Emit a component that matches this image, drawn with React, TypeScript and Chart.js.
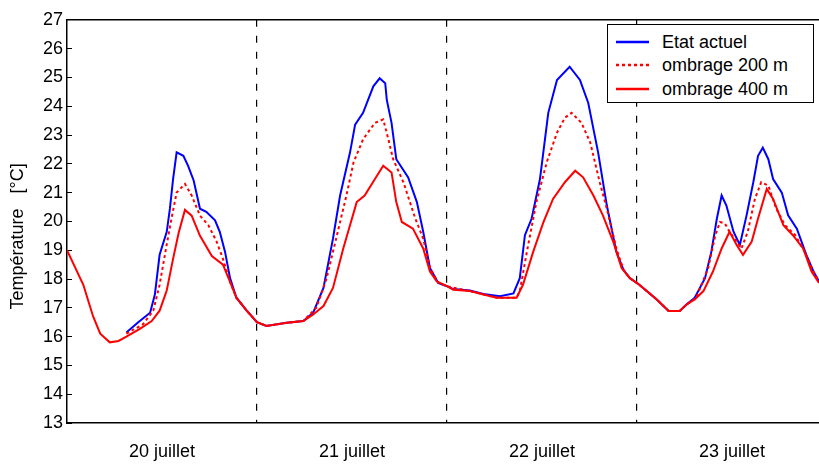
import React, { useEffect, useRef } from 'react';
import { Chart, registerables } from 'chart.js';

Chart.register(...registerables);

const dayLabels = ['20 juillet', '21 juillet', '22 juillet', '23 juillet'];
const seriesNames = ['Etat actuel', 'ombrage 200 m', 'ombrage 400 m'];
const yTitle = 'Température   [°C]      ';

const hoursActuel = [7.5, 9.0, 10.5, 11.1, 11.7, 12.6, 13.0, 13.4, 13.85, 14.7, 15.3, 16.0, 16.8, 17.6, 18.7, 19.3, 19.96, 20.6, 21.4, 22.7, 24, 25.2, 27.75, 29.85, 31.1, 32.4, 33.6, 34.5, 35.75, 36.4, 37.4, 38.7, 39.5, 40.2, 40.4, 41.0, 41.6, 43.1, 44.2, 45.0, 45.85, 46.9, 48, 48.8, 50.9, 52.6, 54.7, 56.4, 57.2, 57.85, 58.7, 59.75, 60.8, 61.9, 63.5, 64.8, 65.85, 67.1, 68.2, 69.4, 70.3, 71.1, 72.3, 74.5, 76.0, 77.4, 78.3, 79.3, 80.6, 81.4, 82.1, 82.7, 83.3, 84.2, 85.0, 85.85, 86.7, 87.3, 87.9, 88.6, 89.2, 90.3, 91.1, 92.2, 93.4, 94.3, 95];
const tempActuel = [16.14, 16.5, 16.83, 17.46, 18.84, 19.64, 20.44, 21.47, 22.4, 22.28, 21.93, 21.42, 20.44, 20.33, 20.04, 19.64, 18.95, 18.03, 17.35, 16.9, 16.5, 16.37, 16.48, 16.54, 16.83, 17.69, 19.4, 20.9, 22.39, 23.36, 23.77, 24.69, 24.97, 24.8, 24.22, 23.42, 22.16, 21.53, 20.67, 19.64, 18.38, 17.86, 17.75, 17.65, 17.6, 17.48, 17.4, 17.5, 18.03, 19.52, 20.1, 21.47, 23.77, 24.91, 25.37, 24.91, 24.11, 22.39, 20.55, 18.95, 18.32, 18.03, 17.8, 17.29, 16.89, 16.89, 17.12, 17.35, 18.03, 18.95, 20.1, 20.9, 20.55, 19.64, 19.18, 20.21, 21.36, 22.28, 22.56, 22.16, 21.47, 21.0, 20.21, 19.75, 18.84, 18.26, 17.92];

const hours200 = [7.5, 9.6, 10.9, 11.7, 12.6, 13.2, 13.85, 14.9, 15.75, 16.8, 17.85, 18.9, 19.7, 20.6, 21.4, 22.7, 24, 25.2, 27.75, 29.85, 31.5, 32.8, 34.1, 35.3, 36.2, 37.4, 38.9, 39.95, 40.6, 41.2, 42.5, 44.0, 45.0, 45.85, 46.9, 48, 50.9, 54.3, 56.8, 57.2, 58.1, 59.3, 60.6, 61.9, 62.9, 63.75, 65.0, 66.1, 67.3, 68.2, 69.4, 70.3, 71.1, 72.3, 74.5, 76.0, 77.4, 78.3, 79.5, 81.0, 81.9, 82.5, 83.1, 83.7, 84.6, 85.2, 86.0, 86.9, 87.7, 88.6, 89.6, 90.7, 92.0, 93.2, 94.3, 95];
const temp200 = [16.1, 16.43, 16.9, 17.8, 19.2, 20.1, 21.0, 21.3, 20.9, 20.2, 19.87, 19.3, 18.7, 17.9, 17.35, 16.9, 16.5, 16.37, 16.48, 16.54, 17.0, 18.03, 19.52, 20.9, 22.05, 22.85, 23.42, 23.54, 22.85, 22.16, 21.36, 20.1, 19.4, 18.4, 17.86, 17.75, 17.58, 17.35, 17.35, 17.58, 18.95, 20.67, 22.05, 23.08, 23.6, 23.77, 23.42, 22.74, 21.36, 20.44, 19.06, 18.32, 18.03, 17.8, 17.29, 16.89, 16.89, 17.12, 17.35, 18.38, 19.52, 19.98, 19.93, 19.64, 19.3, 19.06, 19.64, 20.78, 21.36, 21.24, 20.44, 19.87, 19.52, 18.95, 18.26, 17.9];

const hours400 = [0, 2.06, 3.3, 4.2, 5.4, 6.5, 7.5, 9.2, 10.7, 11.7, 12.6, 13.4, 14.1, 14.9, 15.75, 16.8, 18.3, 19.7, 20.6, 21.4, 22.7, 24, 25.2, 27.75, 29.85, 31.1, 32.4, 33.6, 34.9, 36.6, 37.6, 38.9, 39.95, 41.0, 41.6, 42.3, 43.7, 45.0, 45.85, 46.7, 48, 48.8, 50.9, 52.6, 54.3, 56.8, 57.6, 58.9, 60.2, 61.4, 62.9, 64.2, 65.2, 66.5, 67.7, 69.0, 70.06, 71.1, 72.3, 74.5, 76.0, 77.4, 78.3, 79.3, 80.4, 81.6, 82.7, 83.7, 84.6, 85.4, 86.5, 87.3, 88.4, 89.2, 90.5, 91.7, 93.0, 94.06, 95];
const temp400 = [19.0, 17.8, 16.7, 16.1, 15.8, 15.85, 16.0, 16.27, 16.54, 16.9, 17.6, 18.7, 19.6, 20.4, 20.2, 19.5, 18.8, 18.5, 17.9, 17.35, 16.9, 16.5, 16.37, 16.48, 16.54, 16.77, 17.06, 17.69, 19.06, 20.67, 20.9, 21.47, 21.93, 21.7, 20.67, 19.98, 19.75, 19.06, 18.26, 17.92, 17.75, 17.63, 17.58, 17.46, 17.35, 17.35, 17.8, 18.95, 19.98, 20.78, 21.36, 21.76, 21.53, 20.9, 20.21, 19.3, 18.38, 18.03, 17.8, 17.29, 16.89, 16.89, 17.12, 17.29, 17.58, 18.26, 19.06, 19.64, 19.18, 18.84, 19.3, 20.1, 21.13, 20.78, 19.87, 19.52, 19.06, 18.26, 17.86];

const xMin = 0;
const xMax = 95;
const yMin = 13;
const yMax = 27;
const dayTicks = [12, 24, 36, 48, 60, 72, 84];

const FONT = "'Liberation Sans', Arial, sans-serif";

const pts = (xs: number[], ys: number[]) => xs.map((x, i) => ({ x, y: ys[i] }));

export default function App() {
  const ref = useRef<HTMLCanvasElement | null>(null);

  useEffect(() => {
    if (!ref.current) return;
    const chart = new Chart(ref.current, {
      type: 'line',
      data: {
        datasets: [
          { label: seriesNames[0], data: pts(hoursActuel, tempActuel), borderColor: '#0000ff', backgroundColor: '#0000ff', borderWidth: 2, pointRadius: 0, tension: 0, fill: false, order: 2 },
          { label: seriesNames[1], data: pts(hours200, temp200), borderColor: '#ff0000', backgroundColor: '#ff0000', borderWidth: 2, borderDash: [3, 3], pointRadius: 0, tension: 0, fill: false, order: 1 },
          { label: seriesNames[2], data: pts(hours400, temp400), borderColor: '#ff0000', backgroundColor: '#ff0000', borderWidth: 2, pointRadius: 0, tension: 0, fill: false, order: 0 },
        ],
      },
      options: {
        responsive: false,
        animation: false,
        devicePixelRatio: 1,
        layout: { padding: 0 },
        plugins: { legend: { display: false }, tooltip: { enabled: false } },
        scales: {
          x: {
            type: 'linear',
            position: 'bottom',
            min: xMin,
            max: xMax,
            afterBuildTicks: (s: any) => { s.ticks = dayTicks.map((v) => ({ value: v })); },
            ticks: {
              autoSkip: false,
              maxRotation: 0,
              padding: 18,
              color: '#000',
              font: { family: FONT, size: 18 },
              callback: (v: any) => (v % 24 === 12 ? dayLabels[(v - 12) / 24] : ''),
            },
            grid: {
              color: (c: any) => (c.tick && c.tick.value % 24 === 0 ? '#000' : 'rgba(0,0,0,0)'),
              lineWidth: 1.2,
              drawTicks: false,
            },
            border: { display: true, color: '#000', width: 1.5, dash: [7, 9] },
            afterFit: (s: any) => { s.height = 41; },
          },
          xTop: {
            type: 'linear',
            position: 'top',
            min: xMin,
            max: xMax,
            ticks: { display: false },
            grid: { display: false },
            border: { display: true, color: '#000', width: 1.5 },
            afterFit: (s: any) => { s.height = 16; },
          },
          y: {
            min: yMin,
            max: yMax,
            ticks: { stepSize: 1, padding: 9, color: '#000', font: { family: FONT, size: 18 } },
            grid: { drawOnChartArea: false, drawTicks: true, tickLength: -5, color: '#000', lineWidth: 1 },
            border: { display: true, color: '#000', width: 1.5 },
            title: { display: true, text: yTitle, color: '#000', font: { family: FONT, size: 18 }, padding: { top: 7, bottom: 0 } },
            afterFit: (s: any) => { s.width = 67; },
          },
        },
      } as any,
    });
    return () => chart.destroy();
  }, []);

  const rowTops = [17, 40, 64];
  return (
    <div style={{ position: 'absolute', left: 0, top: 0, width: 819, height: 464, background: '#fff', overflow: 'hidden' }}>
      <canvas ref={ref} width={819} height={464} style={{ display: 'block', width: 819, height: 464 }} />
      <div style={{ position: 'absolute', left: 607, top: 24, width: 205, height: 77, border: '1px solid #000', background: '#fff', fontFamily: FONT, fontSize: 18, color: '#000' }}>
        {seriesNames.map((name, i) => (
          <div key={name} style={{ position: 'absolute', left: 0, top: rowTops[i] - 11, height: 22, width: 205 }}>
            <svg width={40} height={22} style={{ position: 'absolute', left: 8, top: 0 }}>
              <line x1={0} y1={11} x2={33} y2={11} stroke={i === 0 ? '#0000ff' : '#ff0000'} strokeWidth={2.5} strokeDasharray={i === 1 ? '3 3' : undefined} />
            </svg>
            <span style={{ position: 'absolute', left: 54, top: 0, lineHeight: '22px', whiteSpace: 'nowrap' }}>{name}</span>
          </div>
        ))}
      </div>
    </div>
  );
}
